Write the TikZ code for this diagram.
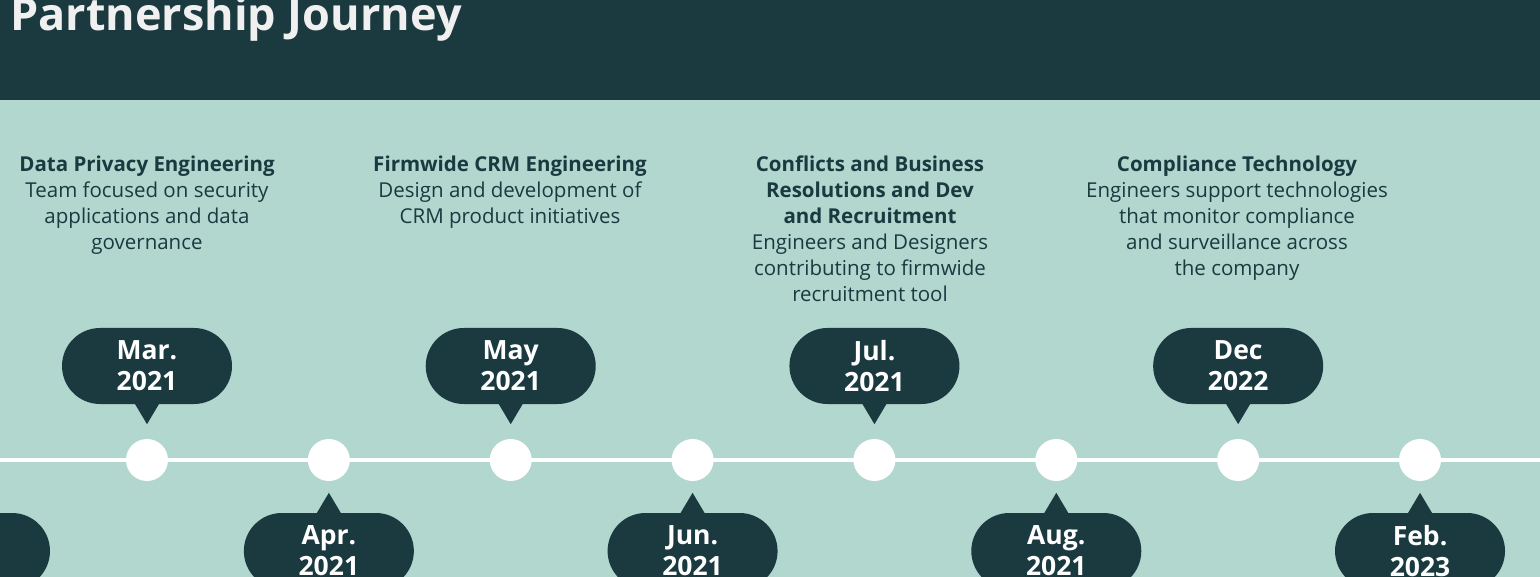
\documentclass[tikz,border=0pt]{standalone}
\usepackage{fontspec}
\setmainfont{Open Sans}
\usetikzlibrary{positioning}
\definecolor{darkteal}{HTML}{1A3A40}
\definecolor{paleteal}{HTML}{B1D7CF}
\definecolor{titlewhite}{HTML}{F0F0F0}

\begin{document}
\begin{tikzpicture}[
    x=1pt, y=-1pt,
    datebubble/.style={fill=darkteal, rounded corners=38pt, minimum width=170pt, minimum height=76pt,
      inner sep=0pt, text=white, align=center, font=\bfseries\fontsize{26.5}{31}\selectfont},
    dot/.style={circle, fill=white, minimum size=42pt, inner sep=0pt},
    blurb/.style={anchor=north, inner sep=0pt, text=darkteal, align=center, font=\fontsize{20.5}{26}\selectfont},
    tline/.style={white, line width=4pt},
]

\useasboundingbox (0,0) rectangle (1540,577);
\clip (0,0) rectangle (1540,577);

% background and header
\fill[paleteal] (0,0) rectangle (1540,577);
\fill[darkteal] (0,0) rectangle (1540,100);
\node[anchor=base west, inner sep=0pt, text=titlewhite, font=\bfseries\fontsize{45}{50}\selectfont]
  (title) at (10,31) {Partnership Journey};

% timeline
\coordinate (lstart) at (0,460);
\coordinate (lend) at (1540,460);
\draw[tline] (lstart) -- (lend);
\foreach \i in {0,...,7} {
  \node[dot] (d\i) at (147+181.86*\i,460) {};
}

% descriptions
\node[blurb] (privacy) at (147,156) {\textbf{Data Privacy Engineering}\\Team focused on security\\applications and data\\governance};
\node[blurb] (crm) at (510,156) {\textbf{Firmwide CRM Engineering}\\Design and development of\\CRM product initiatives};
\node[blurb] (conflicts) at (870,156) {\textbf{Conflicts and Business}\\\textbf{Resolutions and Dev}\\\textbf{and Recruitment}\\Engineers and Designers\\contributing to firmwide\\recruitment tool};
\node[blurb] (compliance) at (1237,156) {\textbf{Compliance Technology}\\Engineers support technologies\\that monitor compliance\\and surveillance across\\the company};

% dates above the line
\node[datebubble] (mar) at (d0 |- 0,366) {Mar.\\2021};
\node[datebubble] (may) at (d2 |- 0,366) {May\\2021};
\node[datebubble] (jul) at (d4 |- 0,366) {Jul.\\2021};
\node[datebubble] (dec) at (d6 |- 0,366) {Dec\\2022};
\foreach \b in {mar,may,jul,dec} {
  \fill[darkteal] ([xshift=-12.5pt,yshift=1pt]\b.south) -- ([xshift=12.5pt,yshift=1pt]\b.south)
    -- ([yshift=-20pt]\b.south) -- cycle;
}

% dates below the line
\node[datebubble] (prev) at (-35,551) {};
\node[datebubble] (apr) at (d1 |- 0,551) {Apr.\\2021};
\node[datebubble] (jun) at (d3 |- 0,551) {Jun.\\2021};
\node[datebubble] (aug) at (d5 |- 0,551) {Aug.\\2021};
\node[datebubble] (feb) at (d7 |- 0,551) {Feb.\\2023};
\foreach \b in {apr,jun,aug,feb} {
  \fill[darkteal] ([xshift=-12.5pt,yshift=-1pt]\b.north) -- ([xshift=12.5pt,yshift=-1pt]\b.north)
    -- ([yshift=20pt]\b.north) -- cycle;
}

\end{tikzpicture}
\end{document}
